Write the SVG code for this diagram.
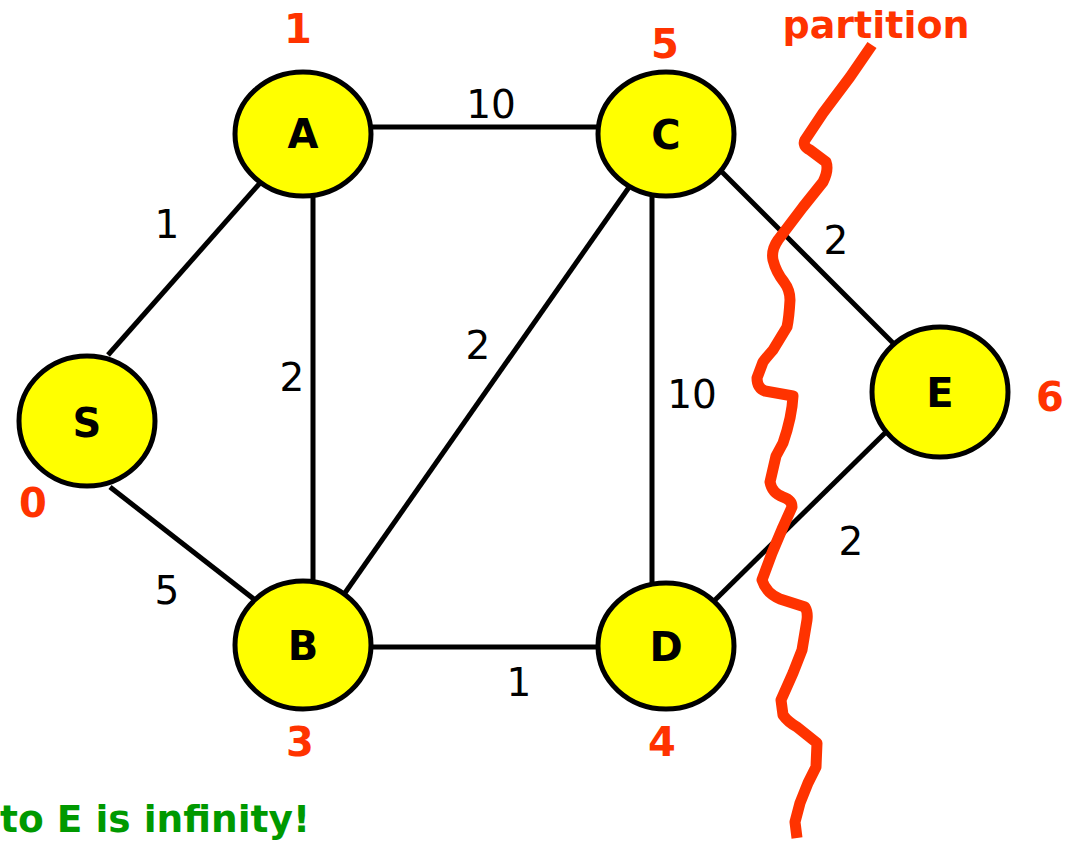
<svg xmlns="http://www.w3.org/2000/svg" width="1069" height="843" viewBox="0 0 1069 843">
<style>
.node ellipse{fill:#ffff00;stroke:#000;stroke-width:5}
.node text{font-family:"DejaVu Sans",Verdana,sans-serif;font-weight:bold;font-size:40px;fill:#000;text-anchor:middle}
.edges line{stroke:#000;stroke-width:5}
.w{font-family:"DejaVu Sans",Verdana,sans-serif;font-size:39px;fill:#000;text-anchor:middle}
.r{font-family:"DejaVu Sans",Verdana,sans-serif;font-weight:bold;font-size:40px;fill:#ff3300;text-anchor:middle}
.g{font-family:"DejaVu Sans",Verdana,sans-serif;font-weight:bold;font-size:37.5px;fill:#009900}
</style>
<rect width="1069" height="843" fill="#fff"/>
<g id="connectors" class="edges">
<line x1="108" y1="355" x2="260" y2="183"/>
<line x1="110" y1="487" x2="255" y2="600"/>
<line x1="372" y1="127" x2="597" y2="127"/>
<line x1="313" y1="196" x2="313" y2="582"/>
<line x1="340" y1="600" x2="632" y2="183"/>
<line x1="652" y1="197" x2="652" y2="583"/>
<line x1="722" y1="172" x2="893" y2="343"/>
<line x1="715" y1="600" x2="885" y2="433"/>
<line x1="372" y1="647" x2="597" y2="647"/>
</g>
<g id="edge-labels">
<text class="w" x="167" y="238">1</text>
<text class="w" x="491" y="118">10</text>
<text class="w" x="292" y="391">2</text>
<text class="w" x="478" y="359">2</text>
<text class="w" x="692" y="408">10</text>
<text class="w" x="836" y="254">2</text>
<text class="w" x="851" y="555">2</text>
<text class="w" x="167" y="604">5</text>
<text class="w" x="519" y="696">1</text>
</g>
<g id="node-S" class="node"><ellipse cx="87" cy="421" rx="68" ry="65"/><text x="87" y="437">S</text></g>
<g id="node-A" class="node"><ellipse cx="303" cy="134" rx="68" ry="62"/><text x="303" y="148">A</text></g>
<g id="node-B" class="node"><ellipse cx="303" cy="645" rx="68" ry="64"/><text x="303" y="660">B</text></g>
<g id="node-C" class="node"><ellipse cx="666" cy="134" rx="68" ry="62"/><text x="666" y="149">C</text></g>
<g id="node-D" class="node"><ellipse cx="666" cy="646" rx="68" ry="63"/><text x="666" y="661">D</text></g>
<g id="node-E" class="node"><ellipse cx="940" cy="392" rx="68" ry="65"/><text x="940" y="407">E</text></g>
<g id="distances">
<text class="r" x="298" y="43">1</text>
<text class="r" x="665" y="58">5</text>
<text class="r" x="1050" y="411">6</text>
<text class="r" x="33" y="517">0</text>
<text class="r" x="300" y="756">3</text>
<text class="r" x="662" y="756">4</text>
<text class="r" x="876" y="38" style="font-size:38px">partition</text>
</g>
<path id="partition" d="M872,45 L850,77 L823,113 L805,140 Q802,146 810,150 L826,162 Q829,170 823,182 L803,207 L778,240 Q771,250 773,260 Q776,272 784,282 Q790,290 790,300 Q789,318 787,327 L773,350 Q766,358 763,362 L757,378 Q757,388 765,391 L793,396 Q792,417 783,443 L776,456 L770,482 Q772,493 783,497 Q792,500 792,507 L783,527 L772,553 L762,580 Q766,593 780,599 L805,607 Q808,612 807,620 L802,650 L793,673 L781,700 L783,715 Q788,722 797,727 L817,743 L816,767 L808,783 L800,803 L795,822 L797,838" fill="none" stroke="#ff3300" stroke-width="11" stroke-linecap="butt" stroke-linejoin="round"/>
<text class="g" x="0" y="832">to E is infinity!</text>
</svg>
